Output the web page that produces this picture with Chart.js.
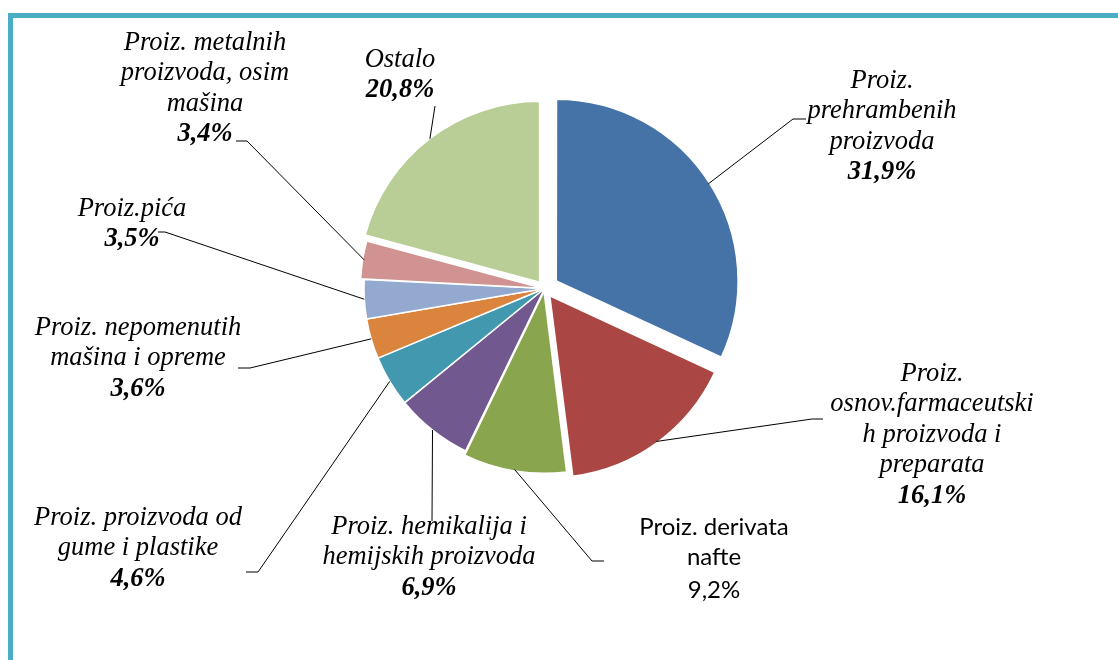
<!DOCTYPE html>
<html>
<head>
<meta charset="utf-8">
<script src="https://cdn.jsdelivr.net/npm/chart.js@4.4.0/dist/chart.umd.min.js"></script>
<style>
  html, body { margin: 0; padding: 0; background: #fff; overflow: hidden; }
  #wrap { position: relative; width: 1118px; height: 660px; overflow: hidden; }
  #frame { position: absolute; left: 8px; top: 13px; width: 1200px; height: 800px;
           border-left: 5px solid #4BACC6; border-top: 5px solid #4BACC6; }
  #chart { position: absolute; left: 0; top: 0; }
</style>
</head>
<body>
<div id="wrap">
  <div id="frame"></div>
  <canvas id="chart" width="1118" height="660"></canvas>
</div>
<script>
// category names, already split the way the labels wrap
const categories = [
    ['Proiz.', 'prehrambenih', 'proizvoda'],
    ['Proiz.', 'osnov.farmaceutski', 'h proizvoda i', 'preparata'],
    ['Proiz. derivata', 'nafte'],
    ['Proiz. hemikalija i', 'hemijskih proizvoda'],
    ['Proiz. proizvoda od', 'gume i plastike'],
    ['Proiz. nepomenutih', 'mašina i opreme'],
    ['Proiz.pića'],
    ['Proiz. metalnih', 'proizvoda, osim', 'mašina'],
    ['Ostalo']
];
const shares = [31.9, 16.1, 9.2, 6.9, 4.6, 3.6, 3.5, 3.4, 20.8];

const sliceColors = ['#4572A7', '#AA4643', '#89A54E', '#71588F', '#4198AF', '#DB843D', '#93A9CF', '#D19392', '#B9CD96'];
// exploded distance in px (chart.js draws offset/4)
const explode = [14, 9, 3, 0, 0, 0, 0, 2, 8];

// label placement: text centre x, first line centre y, leader elbow and tail
const labelPos = [
    { cx: 882, y: 81,  elbow: [793, 119], tail: [806, 119] },
    { cx: 932, y: 374, elbow: [812, 419], tail: [823, 419] },
    { cx: 714, y: 527, elbow: [592, 561], tail: [604, 561] },
    { cx: 429, y: 527, elbow: [432, 521], tail: null },
    { cx: 138, y: 518, elbow: [258, 572], tail: [246, 572] },
    { cx: 138, y: 328, elbow: [250, 368], tail: [238, 368] },
    { cx: 132, y: 209, elbow: [165, 232], tail: [158, 232] },
    { cx: 205, y: 43,  elbow: [247, 141], tail: [236, 141] },
    { cx: 400, y: 60,  elbow: [435, 106], tail: null }
];

const SERIF = '"Times New Roman", "Liberation Serif", "DejaVu Serif", serif';
const SANS = 'Lato, "Liberation Sans", sans-serif';

const fmtPct = v => v.toFixed(1).replace('.', ',') + '%';

const pieLabels = {
    id: 'pieLabels',
    afterDatasetsDraw(chart) {
        const ctx = chart.ctx;
        const arcs = chart.getDatasetMeta(0).data;
        ctx.save();
        arcs.forEach((arc, i) => {
            const p = arc.getProps(['x', 'y', 'startAngle', 'endAngle', 'outerRadius'], true);
            const mid = (p.startAngle + p.endAngle) / 2;
            const off = (arc.options.offset || 0) / 4;
            const sx = p.x + Math.cos(mid) * (p.outerRadius + off);
            const sy = p.y + Math.sin(mid) * (p.outerRadius + off);
            const lp = labelPos[i];
            ctx.strokeStyle = '#000';
            ctx.lineWidth = 1;
            ctx.beginPath();
            ctx.moveTo(sx, sy);
            ctx.lineTo(lp.elbow[0], lp.elbow[1]);
            if (lp.tail) ctx.lineTo(lp.tail[0], lp.tail[1]);
            ctx.stroke();
        });
        ctx.textAlign = 'center';
        ctx.textBaseline = 'middle';
        ctx.fillStyle = '#000';
        categories.forEach((lines, i) => {
            const lp = labelPos[i];
            const plain = i === 2;
            const lh = 30.5;
            ctx.font = plain ? '24px ' + SANS : 'italic 26.5px ' + SERIF;
            lines.forEach((t, k) => ctx.fillText(t, lp.cx, lp.y + k * lh));
            ctx.font = plain ? '24px ' + SANS : 'italic bold 26.5px ' + SERIF;
            ctx.fillText(fmtPct(shares[i]), lp.cx, lp.y + lines.length * lh + (plain ? 2 : 0));
        });
        ctx.restore();
    }
};

new Chart(document.getElementById('chart'), {
    type: 'pie',
    data: {
        labels: categories.map(c => c.join(' ')),
        datasets: [{
            data: shares,
            backgroundColor: sliceColors,
            borderColor: '#fff',
            borderWidth: 1.5,
            offset: explode.map(e => e * 4),
            hoverOffset: 0
        }]
    },
    options: {
        responsive: false,
        animation: false,
        events: [],
        radius: 180.5,
        layout: { padding: { left: 0, right: 29, top: 0, bottom: 83 } },
        plugins: { legend: { display: false }, tooltip: { enabled: false } }
    },
    plugins: [pieLabels]
});
</script>
</body>
</html>
